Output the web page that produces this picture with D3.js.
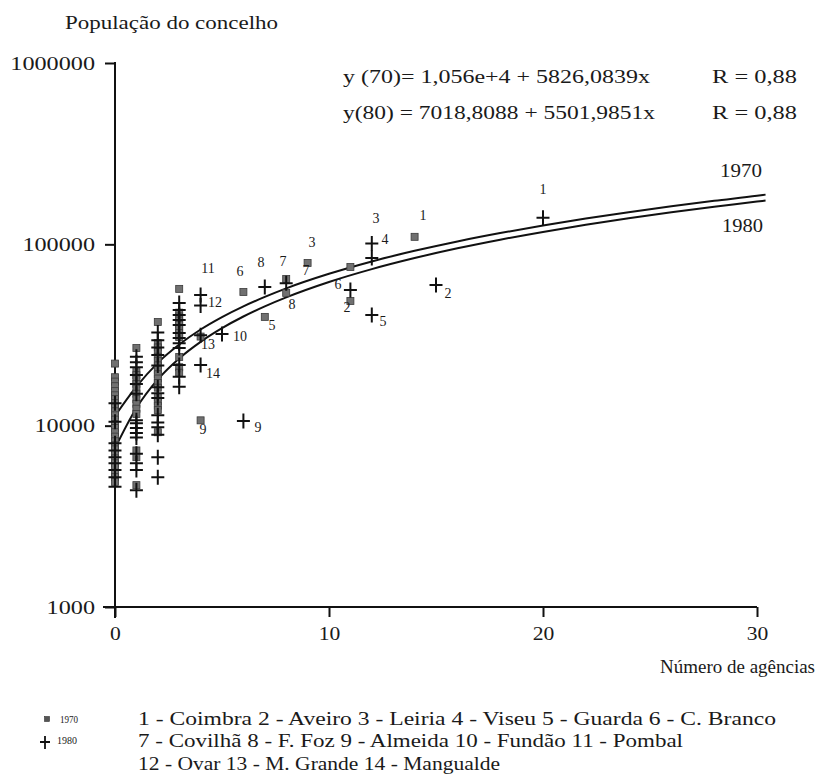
<!DOCTYPE html>
<html><head><meta charset="utf-8">
<script src="https://cdn.jsdelivr.net/npm/d3@7"></script>
<style>
body{margin:0;background:#fff}
svg{display:block;background:#fff}
text{font-family:"Liberation Serif","Times New Roman",serif;fill:#1a1a1a}
</style>
</head><body>
<svg id="c" width="818" height="780"></svg>
<script>
// ---------- data ----------
const xTicks = [0, 10, 20, 30];
const yTicks = [1000, 10000, 100000, 1000000];

// 1970 observations (square markers): [agencies, population]
const obs1970 = [
  [0,22000],[0,18500],[0,17500],[0,16500],[0,15500],[0,14700],[0,14000],[0,13300],[0,12600],[0,12000],
  [0,11400],[0,10800],[0,10200],[0,9700],[0,9200],[0,8700],[0,8200],[0,7800],[0,7400],[0,7000],
  [0,6600],[0,6200],[0,5900],[0,5500],[0,5200],[0,4900],
  [1,26800],[1,20000],[1,19000],[1,18000],[1,17000],[1,16000],[1,15000],[1,14000],[1,13200],[1,12400],
  [1,11600],[1,7300],[1,6700],[1,4700],
  [2,37300],[2,28500],[2,27000],[2,25500],[2,24000],[2,22800],[2,21500],[2,20300],[2,19200],[2,18200],
  [2,17200],[2,16200],[2,14400],[2,13600],[2,12900],[2,12200],[2,9200],
  [3,56800],[3,42000],[3,40000],[3,38000],[3,36000],[3,34200],[3,32500],[3,30800],[3,23900],[3,21000],[3,19600],
  [4,31000],[4,10700],[6,54600],[7,39800],[8,64400],[8,54000],[9,78900],[11,75000],[11,48700],[14,110000]
];

// 1980 observations (cross markers): [agencies, population]
const obs1980 = [
  [0,13300],[0,10500],[0,8000],[0,7300],[0,6700],[0,6200],[0,5700],[0,5200],[0,4600],
  [1,24000],[1,22400],[1,21000],[1,19000],[1,17000],[1,15000],[1,10700],[1,10300],[1,9700],[1,9100],
  [1,8600],[1,7000],[1,6200],[1,5700],[1,4400],
  [2,32600],[2,29600],[2,27000],[2,24500],[2,21500],[2,16300],[2,15100],[2,14200],[2,11400],[2,10400],
  [2,9800],[2,8900],[2,6700],[2,5200],
  [3,47500],[3,43400],[3,40800],[3,38200],[3,35900],[3,32400],[3,30400],[3,28500],[3,26800],[3,21600],
  [3,18600],[3,16400],
  [4,52600],[4,46000],[4,31500],[4,21600],[5,32000],[6,10600],[7,58200],[8,61000],[11,56000],
  [12,101000],[12,84000],[12,40800],[15,59700],[20,140000]
];

// fitted curves
const fitAgencies = [0,1,2,3,4,5,6,7,8,10,12,14,16,18,20,22,24,26,28,30,30.4];
const fit1970 = [11300,16400,22200,28000,33900,39700,45500,51300,57200,68800,80500,92100,103800,115400,127100,138700,150400,162000,173700,185300,188000];
const fit1980 = [7500,12500,18000,23500,29000,34500,40000,45500,51000,62000,73000,84000,95100,106100,117100,128100,139100,150100,161100,172100,174500];

// point labels: [text, agencies, population] (where the number sits)
const pointLabels = [
  ["1",14.39,145000],["1",20.0,200000],["2",10.84,44600],["2",15.56,53900],
  ["3",9.2,103000],["3",12.2,138000],["4",12.62,105700],["5",7.34,35900],["5",12.52,37300],
  ["6",5.84,70400],["6",10.42,59700],["7",7.85,80000],["7",8.93,71300],["8",6.82,78900],
  ["8",8.27,46300],["9",4.11,9470],["9",6.68,9710],["10",5.84,30900],["11",4.35,73200],
  ["12",4.67,47500],["13",4.35,27900],["14",4.58,19500]
];

const equations = [
  ["y (70)= 1,056e+4  +  5826,0839x", "R = 0,88"],
  ["y(80) = 7018,8088 + 5501,9851x", "R = 0,88"]
];
const seriesNames = ["1970", "1980"];
const legendRows = [
  "1 - Coimbra 2 - Aveiro 3 - Leiria 4 - Viseu 5 - Guarda 6 - C. Branco",
  "7 - Covilhã 8 - F. Foz 9 - Almeida 10 - Fundão 11 - Pombal",
  "12 - Ovar 13 - M. Grande 14 - Mangualde"
];
const yTitle = "População do concelho";
const xTitle = "Número de agências";

// ---------- drawing ----------
const FONT = "Liberation Serif, Times New Roman, serif";
const INK = "#1a1a1a";
const svg = d3.select("#c");
const x = d3.scaleLinear().domain([0, 30]).range([115, 757]);
const y = d3.scaleLog().domain([1000, 1000000]).range([607, 63]);

function txt(px, py, s, size, width, anchor) {
  const t = svg.append("text")
    .attr("x", px).attr("y", py)
    .attr("dominant-baseline", "central")
    .attr("font-family", FONT)
    .attr("fill", INK)
    .attr("font-size", size)
    .attr("text-anchor", anchor || "start")
    .text(s);
  if (width) t.attr("textLength", width).attr("lengthAdjust", "spacingAndGlyphs");
  return t;
}

// axes
const gy = svg.append("g").attr("transform", "translate(115,0)")
  .call(d3.axisLeft(y).tickValues(yTicks).tickSize(10).tickSizeOuter(0).tickPadding(10)
    .tickFormat(d => String(d)));
gy.select(".domain").remove();
gy.selectAll(".tick line").attr("stroke", "#111").attr("stroke-width", 2);
gy.selectAll(".tick text").each(function(d) {
  const s = String(d);
  const w = s.length * 12.1;
  d3.select(this).attr("text-anchor", "start").attr("x", -20 - w)
    .attr("font-size", 19).attr("font-family", FONT)
    .attr("textLength", w).attr("lengthAdjust", "spacingAndGlyphs").attr("fill", INK);
});

const gx = svg.append("g").attr("transform", "translate(0,607)")
  .call(d3.axisBottom(x).tickValues(xTicks).tickSize(10).tickSizeOuter(0).tickPadding(10)
    .tickFormat(d => String(d)));
gx.select(".domain").remove();
gx.selectAll(".tick line").attr("stroke", "#111").attr("stroke-width", 2);
gx.selectAll(".tick text").attr("font-size", 19).attr("font-family", FONT)
  .attr("fill", INK).each(function(d) {
    const s = String(d);
    d3.select(this).attr("textLength", s.length * 10.8).attr("lengthAdjust", "spacingAndGlyphs");
  });

svg.append("line").attr("x1", 115).attr("x2", 115).attr("y1", y(1000000) - 1).attr("y2", 618)
  .attr("stroke", "#111").attr("stroke-width", 2);
svg.append("line").attr("x1", 103).attr("x2", x(30)).attr("y1", 607).attr("y2", 607)
  .attr("stroke", "#111").attr("stroke-width", 2);

// titles
txt(65, 22, yTitle, 19, 213);
txt(660, 666, xTitle, 19, 155);

// equations
equations.forEach((eq, i) => {
  const cy = [76, 112][i];
  txt(343, cy, eq[0], 19, i === 0 ? 307 : 312);
  txt(712, cy, eq[1], 19, 85);
});
txt(720, 170, seriesNames[0], 19, 42);
txt(722, 225, seriesNames[1], 19, 41);

// fitted curves
const line = d3.line().x(d => x(d[0])).y(d => y(d[1])).curve(d3.curveMonotoneX);
[fit1970, fit1980].forEach(vals => {
  svg.append("path")
    .attr("d", line(fitAgencies.map((a, i) => [a, vals[i]])))
    .attr("fill", "none").attr("stroke", "#111").attr("stroke-width", 2);
});

// markers
svg.append("g").selectAll("rect").data(obs1970).join("rect")
  .attr("x", d => x(d[0]) - 3.5).attr("y", d => y(d[1]) - 3.5)
  .attr("width", 7).attr("height", 7)
  .attr("fill", "#707070").attr("stroke", "#3a3a3a").attr("stroke-width", 0.8);

const crossPath = "M-6.5,0H6.5M0,-7.5V7.5";
svg.append("g").selectAll("path").data(obs1980).join("path")
  .attr("transform", d => `translate(${x(d[0])},${y(d[1])})`)
  .attr("d", crossPath).attr("stroke", "#111").attr("stroke-width", 2).attr("fill", "none");

// point labels
pointLabels.forEach(l => {
  txt(x(l[1]), y(l[2]), l[0], 14, null, "middle");
});

// legend
svg.append("rect").attr("x", 44.5).attr("y", 716.5).attr("width", 5).attr("height", 5)
  .attr("fill", "#555").attr("stroke", "#333").attr("stroke-width", 0.6);
txt(60, 719, seriesNames[0], 10, 18);
svg.append("path").attr("transform", "translate(45,742)").attr("d", "M-5,0H5M0,-6V7")
  .attr("stroke", "#111").attr("stroke-width", 1.8);
txt(57, 740, seriesNames[1], 10, 20);
const rowWidths = [638, 545, 362];
legendRows.forEach((r, i) => txt(138, 718 + i * 22.5, r, 19, rowWidths[i]));
</script>
</body></html>
